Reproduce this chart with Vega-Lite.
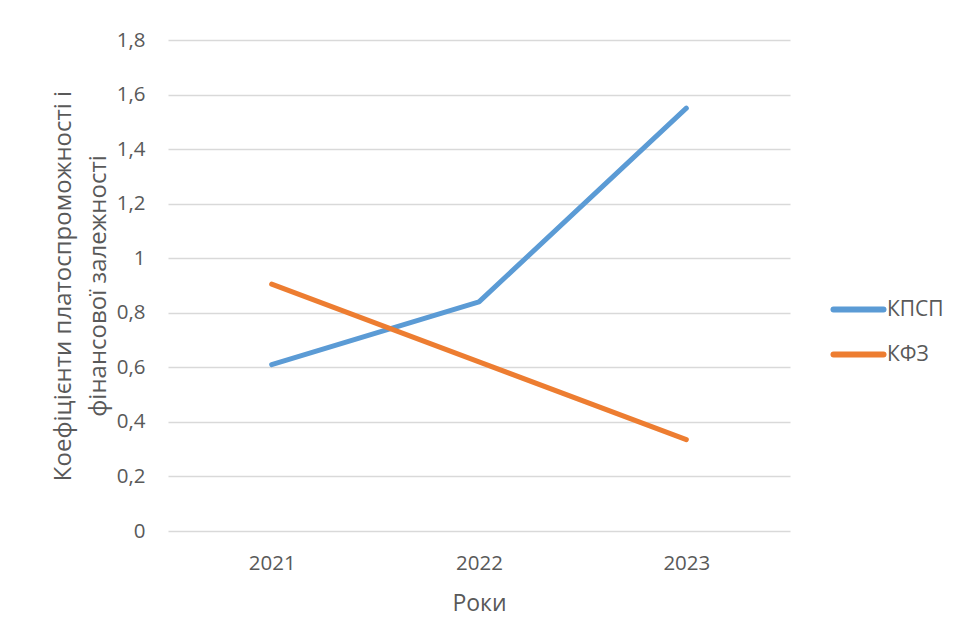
{
  "$schema": "https://vega.github.io/schema/vega-lite/v6.json",
  "autosize": "none",
  "width": 622,
  "height": 491,
  "padding": {"left": 168, "top": 40, "right": 174, "bottom": 109},
  "background": "white",
  "config": {
    "view": {"stroke": null},
    "font": "Open Sans",
    "axis": {
      "labelColor": "#595959",
      "titleColor": "#595959",
      "labelFont": "Open Sans",
      "titleFont": "Open Sans",
      "titleFontWeight": "normal",
      "gridColor": "#d9d9d9",
      "gridWidth": 1.3,
      "ticks": false,
      "domain": false
    },
    "legend": {
      "labelColor": "#595959",
      "labelFont": "Open Sans"
    }
  },
  "data": {
    "values": [
      {"year": "2021", "series": "КПСП", "value": 0.61},
      {"year": "2022", "series": "КПСП", "value": 0.84},
      {"year": "2023", "series": "КПСП", "value": 1.55},
      {"year": "2021", "series": "КФЗ", "value": 0.905},
      {"year": "2022", "series": "КФЗ", "value": 0.62},
      {"year": "2023", "series": "КФЗ", "value": 0.335}
    ]
  },
  "mark": {"type": "line", "strokeWidth": 5, "strokeCap": "round", "strokeJoin": "round"},
  "encoding": {
    "x": {
      "field": "year",
      "type": "ordinal",
      "scale": {"type": "point", "padding": 0.5},
      "axis": {
        "title": "Роки",
        "labelAngle": 0,
        "labelFontSize": 20.5,
        "labelPadding": 22,
        "titleFontSize": 23,
        "titlePadding": 19,
        "grid": false
      }
    },
    "y": {
      "field": "value",
      "type": "quantitative",
      "scale": {"domain": [0, 1.8], "nice": false},
      "axis": {
        "title": ["Коефіцієнти платоспроможності і", "фінансової залежності"],
        "titleFontSize": 24,
        "titleLineHeight": 35,
        "titlePadding": 6,
        "values": [0, 0.2, 0.4, 0.6, 0.8, 1, 1.2, 1.4, 1.6, 1.8],
        "labelExpr": "replace(format(datum.value, '.1~f'), '.', ',')",
        "labelFontSize": 20.5,
        "labelPadding": 23,
        "grid": true
      }
    },
    "color": {
      "field": "series",
      "type": "nominal",
      "scale": {"domain": ["КПСП", "КФЗ"], "range": ["#5b9bd5", "#ed7d31"]},
      "legend": {
        "title": null,
        "orient": "none",
        "legendX": 680,
        "legendY": 259,
        "padding": 0,
        "symbolType": "M-5,0L5,0",
        "symbolSize": 100,
        "symbolStrokeWidth": 6,
        "labelFontSize": 21,
        "labelOffset": 18,
        "rowPadding": 20,
        "encode": {"symbols": {"update": {"strokeCap": {"value": "round"}}}}
      }
    }
  }
}
